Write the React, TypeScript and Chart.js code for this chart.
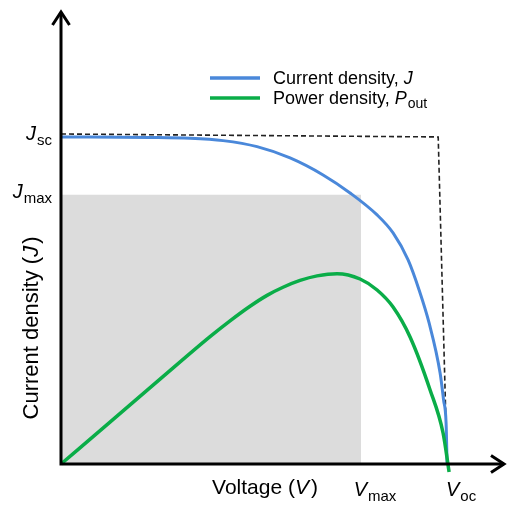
import React, { useEffect, useRef } from "react";
import { Chart, registerables } from "chart.js";

Chart.register(...registerables);

// Current density J (normalised to Jsc) vs voltage (normalised to Voc)
const jVoltage = [0, 0.2306, 0.3342, 0.4197, 0.5078, 0.5933, 0.6788, 0.7487, 0.8187, 0.8601, 0.899, 0.9275, 0.9534, 0.9819, 0.9909, 0.9974, 1.0];
const jValues = [1.0, 0.9985, 0.996, 0.9887, 0.9703, 0.9358, 0.8838, 0.8287, 0.7615, 0.7064, 0.6239, 0.5321, 0.4312, 0.2783, 0.1957, 0.1254, 0];

// Power density P_out (same vertical units)
const pVoltage = [0, 0.1269, 0.2565, 0.386, 0.4378, 0.4896, 0.5337, 0.5751, 0.6192, 0.6632, 0.715, 0.7746, 0.8187, 0.8601, 0.9041, 0.956, 0.9896, 1.0052];
const pValues = [0, 0.1278, 0.2593, 0.3893, 0.4376, 0.4823, 0.5156, 0.5404, 0.5612, 0.5752, 0.582, 0.5657, 0.5321, 0.4801, 0.3884, 0.2263, 0.0948, -0.0245];

// Ideal (dashed) curve
const idealVoltage = [0, 0.977, 1.0];
const idealValues = [1.009, 1.0, 0];

// Max power rectangle
const vMax = 0.777;
const jMax = 0.823;
const vOc = 1.0;
const jSc = 1.0;

const yTickLabels: [string, string, number][] = [["J", "sc", jSc], ["J", "max", jMax]];
const xTickLabels: [string, string, number][] = [["V", "max", vMax], ["V", "oc", vOc]];
const legendLabels: [string, string, string][] = [
  ["Current density, ", "J", ""],
  ["Power density, ", "P", "out"],
];
const xTitle = ["Voltage (", "V", ")"];
const yTitle = ["Current density (", "J", ")"];

const BLUE = "#4a88da";
const GREEN = "#0aad48";
const FONT = "'Liberation Sans', Arial, Helvetica, sans-serif";

function drawSub(ctx: CanvasRenderingContext2D, main: string, sub: string, x: number, y: number, align: "left" | "right" | "center", size = 20, subSize = 15) {
  ctx.save();
  ctx.textBaseline = "alphabetic";
  ctx.font = `italic ${size}px ${FONT}`;
  const w1 = ctx.measureText(main).width;
  ctx.font = `${subSize}px ${FONT}`;
  const w2 = ctx.measureText(sub).width;
  const total = w1 + w2 + 1;
  let sx = x;
  if (align === "right") sx = x - total;
  if (align === "center") sx = x - total / 2;
  ctx.fillStyle = "#000";
  ctx.textAlign = "left";
  ctx.font = `italic ${size}px ${FONT}`;
  ctx.fillText(main, sx, y);
  ctx.font = `${subSize}px ${FONT}`;
  ctx.fillText(sub, sx + w1 + 1, y + 5);
  ctx.restore();
}

const overlay = {
  id: "overlay",
  afterDraw(chart: any) {
    const ctx: CanvasRenderingContext2D = chart.ctx;
    const xs = chart.scales.x;
    const ys = chart.scales.y;
    const x0 = xs.getPixelForValue(0);
    const y0 = ys.getPixelForValue(0);
    const right = chart.chartArea.right;
    const top = chart.chartArea.top;
    ctx.save();
    ctx.strokeStyle = "#000";
    ctx.lineWidth = 3;
    ctx.lineCap = "butt";
    ctx.beginPath();
    ctx.moveTo(x0, y0 + 1.5);
    ctx.lineTo(x0, top);
    ctx.moveTo(x0 - 1.5, y0);
    ctx.lineTo(right - 1, y0);
    ctx.stroke();
    ctx.lineJoin = "miter";
    ctx.beginPath();
    ctx.moveTo(x0 - 8.5, top + 13);
    ctx.lineTo(x0, top);
    ctx.lineTo(x0 + 8.5, top + 13);
    ctx.moveTo(right - 14, y0 - 8.5);
    ctx.lineTo(right - 1, y0);
    ctx.lineTo(right - 14, y0 + 8.5);
    ctx.stroke();

    // tick labels
    yTickLabels.forEach(([m, s, v]) => {
      const py = ys.getPixelForValue(v);
      drawSub(ctx, m, s, x0 - 9, py + 3, "right");
    });
    xTickLabels.forEach(([m, s, v]) => {
      const px = xs.getPixelForValue(v);
      drawSub(ctx, m, s, px + 14, y0 + 32, "center");
    });

    // axis titles
    ctx.fillStyle = "#000";
    ctx.textBaseline = "alphabetic";
    const drawTitle = (parts: string[], cx: number, cy: number, size: number) => {
      ctx.font = `${size}px ${FONT}`;
      const w0 = ctx.measureText(parts[0]).width;
      const w2 = ctx.measureText(parts[2]).width;
      ctx.font = `italic ${size}px ${FONT}`;
      const w1 = ctx.measureText(parts[1]).width + 2;
      const total = w0 + w1 + w2;
      const sx = cx - total / 2;
      ctx.textAlign = "left";
      ctx.font = `${size}px ${FONT}`;
      ctx.fillText(parts[0], sx, cy);
      ctx.font = `italic ${size}px ${FONT}`;
      ctx.fillText(parts[1], sx + w0, cy);
      ctx.font = `${size}px ${FONT}`;
      ctx.fillText(parts[2], sx + w0 + w1, cy);
    };
    drawTitle(xTitle, 265, y0 + 30, 21);
    ctx.save();
    ctx.translate(38, 328);
    ctx.rotate(-Math.PI / 2);
    drawTitle(yTitle, 0, 0, 22);
    ctx.restore();

    // legend
    const legendColors = [BLUE, GREEN];
    legendLabels.forEach(([t, it, sub], i) => {
      const ly = 78 + i * 20;
      ctx.strokeStyle = legendColors[i];
      ctx.lineWidth = 3.5;
      ctx.beginPath();
      ctx.moveTo(210, ly);
      ctx.lineTo(260, ly);
      ctx.stroke();
      ctx.fillStyle = "#000";
      ctx.textAlign = "left";
      ctx.font = `18px ${FONT}`;
      const by = ly + 6;
      ctx.fillText(t, 273, by);
      const w = ctx.measureText(t).width;
      ctx.font = `italic 18px ${FONT}`;
      ctx.fillText(it, 273 + w, by);
      const w2 = ctx.measureText(it).width;
      if (sub) {
        ctx.font = `14px ${FONT}`;
        ctx.fillText(sub, 273 + w + w2 + 1, by + 4);
      }
    });
    ctx.restore();
  },
};

export default function App() {
  const ref = useRef<HTMLCanvasElement>(null);
  useEffect(() => {
    if (!ref.current) return;
    const chart = new Chart(ref.current, {
      type: "scatter",
      data: {
        datasets: [
          {
            label: "rect",
            data: [{ x: 0, y: jMax }, { x: vMax, y: jMax }],
            showLine: true,
            borderWidth: 0,
            borderColor: "rgba(0,0,0,0)",
            backgroundColor: "#dcdcdc",
            fill: "origin",
            pointRadius: 0,
            order: 4,
          },
          {
            label: "ideal",
            data: idealVoltage.map((x, i) => ({ x, y: idealValues[i] })),
            showLine: true,
            borderColor: "#222",
            borderWidth: 1.6,
            borderDash: [5, 3],
            pointRadius: 0,
            fill: false,
            order: 3,
          },
          {
            label: "Current density, J",
            data: jVoltage.map((x, i) => ({ x, y: jValues[i] })),
            showLine: true,
            borderColor: BLUE,
            borderWidth: 3,
            pointRadius: 0,
            cubicInterpolationMode: "monotone",
            fill: false,
            order: 2,
          },
          {
            label: "Power density, Pout",
            data: pVoltage.map((x, i) => ({ x, y: pValues[i] })),
            showLine: true,
            borderColor: GREEN,
            borderWidth: 3.5,
            pointRadius: 0,
            cubicInterpolationMode: "monotone",
            fill: false,
            clip: false as any,
            order: 1,
          },
        ],
      },
      options: {
        animation: false,
        responsive: false,
        layout: { padding: { left: 61, right: 5, top: 12, bottom: 41 } },
        plugins: { legend: { display: false }, tooltip: { enabled: false } },
        scales: {
          x: { type: "linear", min: 0, max: 1.15, display: false },
          y: { type: "linear", min: 0, max: 1.382, display: false },
        },
      },
      plugins: [overlay],
    });
    return () => chart.destroy();
  }, []);
  return (
    <div style={{ position: "fixed", left: 0, top: 0, width: 510, height: 505, background: "#fff" }}>
      <canvas ref={ref} width={510} height={505} style={{ width: 510, height: 505 }} />
    </div>
  );
}
